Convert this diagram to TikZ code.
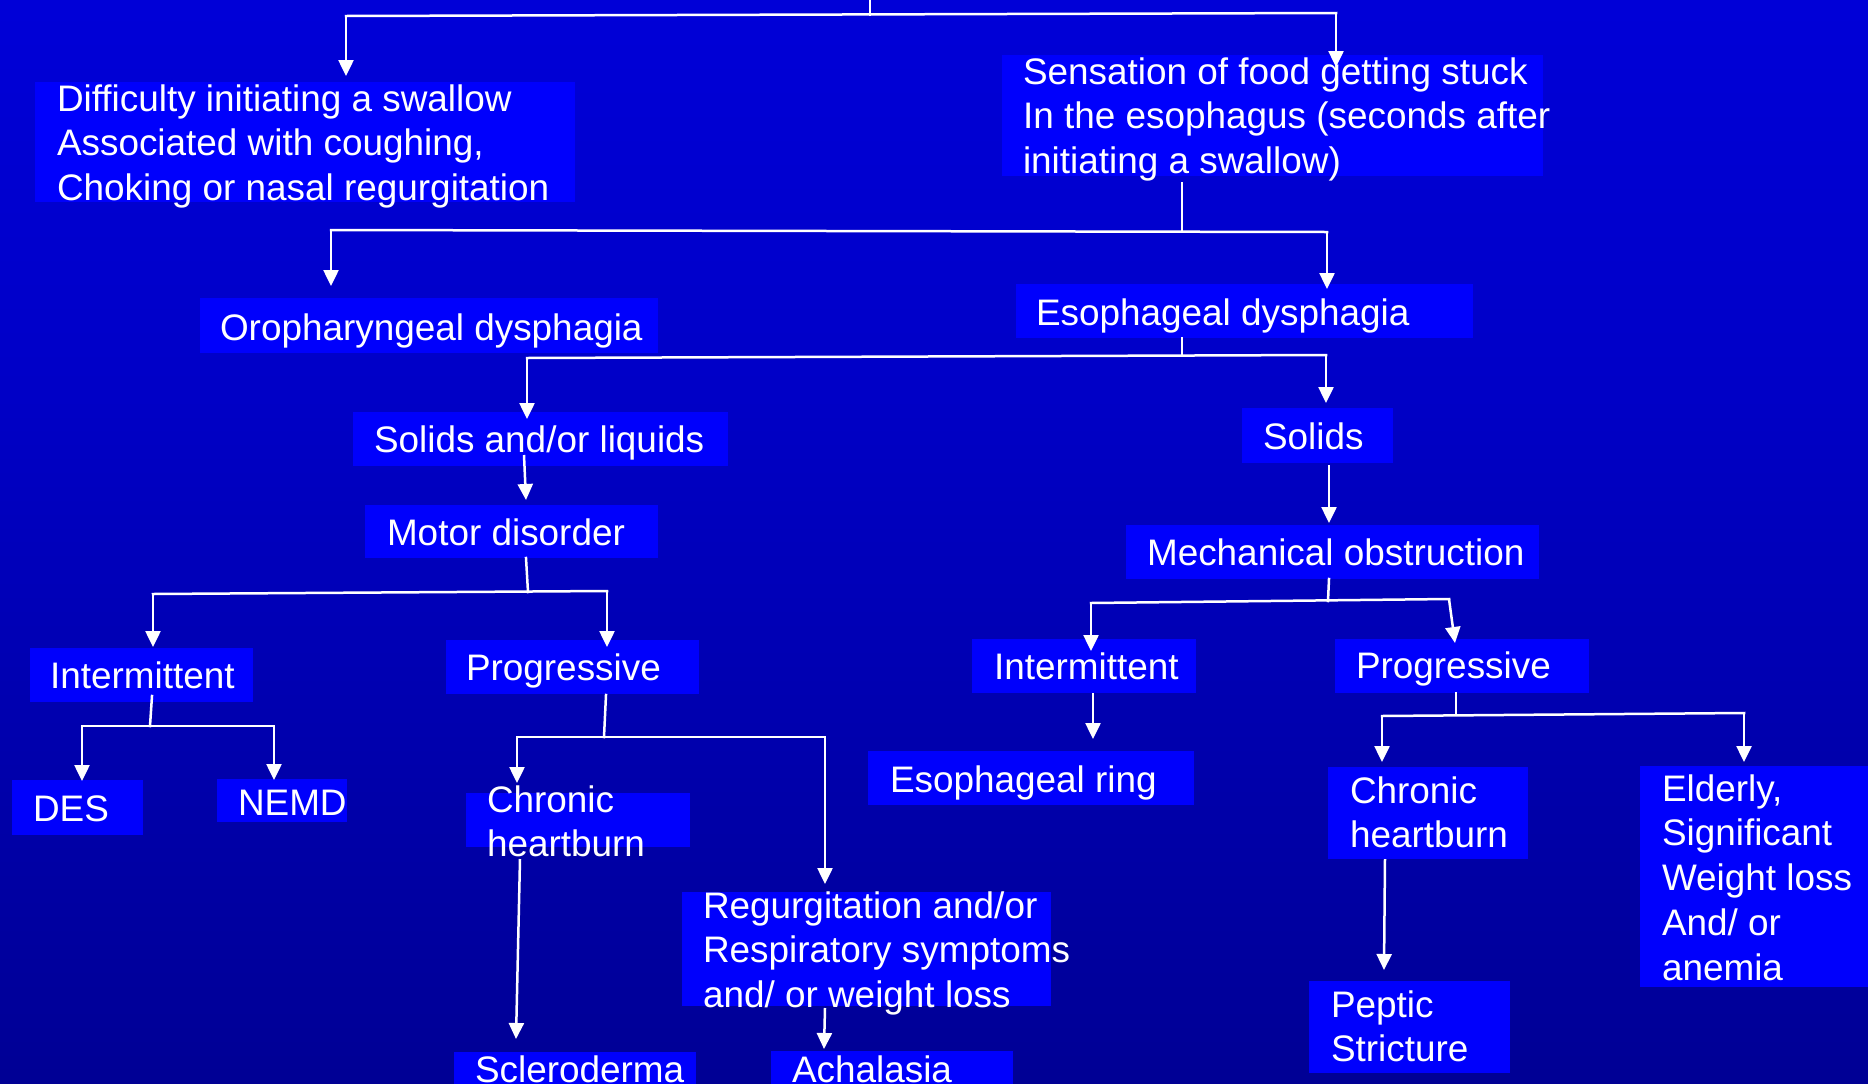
\documentclass[tikz,border=0pt]{standalone}
\usepackage{fontspec}
\setmainfont{Liberation Sans}
\usetikzlibrary{arrows.meta}
\definecolor{boxblue}{RGB}{0,0,252}
\definecolor{bgA}{RGB}{0,0,238}
\definecolor{bgB}{RGB}{0,0,200}
\definecolor{bgC}{RGB}{0,0,150}
\definecolor{bgD}{RGB}{0,0,105}
\pgfdeclareverticalshading{bgshade}{100bp}{color(0bp)=(bgD); color(26bp)=(bgC); color(58bp)=(bgB); color(100bp)=(bgA)}
\newcommand\ml[1]{\begin{tabular}[t]{@{}l@{}}#1\end{tabular}}
\newcommand\bxn[5]{\node[bx, minimum width={(#4-#2)*0.1mm}, minimum height={(#5-#3)*0.1mm}] (#1) at (#2,#3) {};}
\tikzset{
  bx/.style={fill=boxblue, draw=none, inner sep=0pt, outer sep=0pt, anchor=north west},
  tx/.style={text=white, inner sep=0pt, outer sep=0pt, anchor=base west,
             font=\fontsize{10.5pt}{12.8pt}\selectfont},
  ln/.style={draw=white, line width=0.25mm, line cap=rect},
  ar/.style={draw=white, line width=0.25mm, -{Triangle[length=1.6mm, width=1.5mm]}},
}
\begin{document}
\begin{tikzpicture}[x=0.1mm, y=-0.1mm]
\useasboundingbox (0,0) rectangle (1868,1084);
\clip (0,0) rectangle (1868,1084);
\shade[shading=bgshade] (0,0) rectangle (1868,1084);

% ---------- boxes ----------
\bxn{bDiff}{35}{82}{575}{202}
\bxn{bSens}{1002}{55}{1543}{176}
\bxn{bOro}{200}{298}{658}{353}
\bxn{bEso}{1016}{284}{1473}{338}
\bxn{bSL}{353}{412}{728}{466}
\bxn{bMot}{365}{505}{658}{558}
\bxn{bSol}{1242}{408}{1393}{463}
\bxn{bMech}{1126}{525}{1539}{579}
\bxn{bIntL}{30}{648}{253}{702}
\bxn{bProgL}{446}{640}{699}{694}
\bxn{bDES}{12}{780}{143}{835}
\bxn{bNEMD}{217}{779}{347}{822}
\bxn{bChrL}{466}{793}{690}{847}
\bxn{bScl}{454}{1052}{696}{1095}
\bxn{bReg}{682}{892}{1051}{1006}
\bxn{bAch}{771}{1051}{1013}{1095}
\bxn{bIntR}{972}{639}{1196}{693}
\bxn{bRing}{868}{751}{1194}{805}
\bxn{bProgR}{1335}{639}{1589}{693}
\bxn{bChrR}{1328}{767}{1528}{859}
\bxn{bPep}{1309}{981}{1510}{1073}
\bxn{bEld}{1640}{766}{1880}{987}

% ---------- texts ----------
\node[tx] (tDiff) at (57,111) {\ml{Difficulty initiating a swallow\\Associated with coughing,\\Choking or nasal regurgitation}};
\node[tx] (tSens) at (1023,84) {\ml{Sensation of food getting stuck\\In the esophagus (seconds after\\initiating a swallow)}};
\node[tx] (tOro) at (220,340) {Oropharyngeal dysphagia};
\node[tx] (tEso) at (1036,325) {Esophageal dysphagia};
\node[tx] (tSL) at (374,452) {Solids and/or liquids};
\node[tx] (tMot) at (387,545) {Motor disorder};
\node[tx] (tSol) at (1263,449) {Solids};
\node[tx] (tMech) at (1147,565) {Mechanical obstruction};
\node[tx] (tIntL) at (50,688) {Intermittent};
\node[tx] (tProgL) at (466,680) {Progressive};
\node[tx] (tDES) at (33,821) {DES};
\node[tx] (tNEMD) at (238,815) {NEMD};
\node[tx] (tChrL) at (487,812) {\ml{Chronic\\heartburn}};
\node[tx] (tScl) at (475,1082) {Scleroderma};
\node[tx] (tReg) at (703,918) {\ml{Regurgitation and/or\\Respiratory symptoms\\and/ or weight loss}};
\node[tx] (tAch) at (792,1082) {Achalasia};
\node[tx] (tIntR) at (994,679) {Intermittent};
\node[tx] (tRing) at (890,792) {Esophageal ring};
\node[tx] (tProgR) at (1356,678) {Progressive};
\node[tx] (tChrR) at (1350,803) {\ml{Chronic\\heartburn}};
\node[tx] (tPep) at (1331,1017) {\ml{Peptic\\Stricture}};
\node[tx] (tEld) at (1662,801) {\ml{Elderly,\\Significant\\Weight loss\\And/ or\\anemia}};

% ---------- connector points ----------
\coordinate (top) at (870,-5);   \coordinate (jT) at (870,15);
\coordinate (h1L) at (346,16);   \coordinate (h1R) at (1336,13);
\coordinate (aDiff) at (346,76); \coordinate (aSens) at (1336,67);

\coordinate (sSens) at (1182,183); \coordinate (jS) at (1182,231);
\coordinate (h2L) at (331,230);    \coordinate (h2R) at (1327,232);
\coordinate (aOro) at (331,286);   \coordinate (aEso) at (1327,289);

\coordinate (sEso) at (1182,338); \coordinate (jE) at (1182,356);
\coordinate (h3L) at (527,358);   \coordinate (h3R) at (1326,355);
\coordinate (aSL) at (527,419);   \coordinate (aSol) at (1326,403);

\coordinate (sSL) at (524,455);   \coordinate (aMot) at (526,500);
\coordinate (sSol) at (1329,465); \coordinate (aMech) at (1329,523);

\coordinate (sMot) at (526,558);  \coordinate (jM) at (528,592);
\coordinate (h4L) at (153,594);   \coordinate (h4R) at (607,591);
\coordinate (aIntL) at (153,647); \coordinate (aProgL) at (607,647);

\coordinate (sIntL) at (152,696); \coordinate (jIL) at (150,726);
\coordinate (h5L) at (82,726);    \coordinate (h5R) at (274,726);
\coordinate (aDES) at (82,781);   \coordinate (aNEMD) at (274,780);

\coordinate (sProgL) at (606,695); \coordinate (jPL) at (604,737);
\coordinate (h6L) at (517,737);    \coordinate (h6R) at (825,737);
\coordinate (aChrL) at (517,783);  \coordinate (aReg) at (825,884);

\coordinate (sChrL) at (520,859); \coordinate (aScl) at (516,1039);
\coordinate (sReg) at (825,1008); \coordinate (aAch) at (824,1049);

\coordinate (sMech) at (1329,579); \coordinate (jMe) at (1328,601);
\coordinate (h7L) at (1091,603);   \coordinate (h7R) at (1449,599);
\coordinate (aIntR) at (1091,651); \coordinate (aProgR) at (1455,643);

\coordinate (sIntR) at (1093,693); \coordinate (aRing) at (1093,739);

\coordinate (sProgR) at (1456,693); \coordinate (jPR) at (1456,715);
\coordinate (h8L) at (1382,716);    \coordinate (h8R) at (1744,713);
\coordinate (aChrR) at (1382,762);  \coordinate (aEld) at (1744,762);

\coordinate (sChrR) at (1385,859); \coordinate (aPep) at (1384,970);

% ---------- connectors ----------
\draw[ln] (top) -- (jT);
\draw[ln] (h1L) -- (h1R);
\draw[ar] (h1L) -- (aDiff);
\draw[ar] (h1R) -- (aSens);

\draw[ln] (sSens) -- (jS);
\draw[ln] (h2L) -- (h2R);
\draw[ar] (h2L) -- (aOro);
\draw[ar] (h2R) -- (aEso);

\draw[ln] (sEso) -- (jE);
\draw[ln] (h3L) -- (h3R);
\draw[ar] (h3L) -- (aSL);
\draw[ar] (h3R) -- (aSol);

\draw[ar] (sSL) -- (aMot);
\draw[ar] (sSol) -- (aMech);

\draw[ln] (sMot) -- (jM);
\draw[ln] (h4L) -- (h4R);
\draw[ar] (h4L) -- (aIntL);
\draw[ar] (h4R) -- (aProgL);

\draw[ln] (sIntL) -- (jIL);
\draw[ln] (h5L) -- (h5R);
\draw[ar] (h5L) -- (aDES);
\draw[ar] (h5R) -- (aNEMD);

\draw[ln] (sProgL) -- (jPL);
\draw[ln] (h6L) -- (h6R);
\draw[ar] (h6L) -- (aChrL);
\draw[ar] (h6R) -- (aReg);

\draw[ar] (sChrL) -- (aScl);
\draw[ar] (sReg) -- (aAch);

\draw[ln] (sMech) -- (jMe);
\draw[ln] (h7L) -- (h7R);
\draw[ar] (h7L) -- (aIntR);
\draw[ar] (h7R) -- (aProgR);

\draw[ar] (sIntR) -- (aRing);

\draw[ln] (sProgR) -- (jPR);
\draw[ln] (h8L) -- (h8R);
\draw[ar] (h8L) -- (aChrR);
\draw[ar] (h8R) -- (aEld);

\draw[ar] (sChrR) -- (aPep);
\end{tikzpicture}
\end{document}
